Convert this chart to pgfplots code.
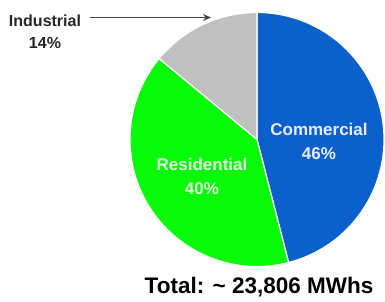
\documentclass[border=0pt]{standalone}
\usepackage{pgfplots}
\pgfplotsset{compat=1.18}
\usepackage{pgfplotstable}
\usepackage{fontspec}
\setmainfont{Liberation Sans}
\usetikzlibrary{arrows.meta}
\definecolor{comblue}{RGB}{12,96,204}
\definecolor{resgreen}{RGB}{8,250,8}
\definecolor{indgray}{RGB}{192,192,192}
\definecolor{arrowgray}{RGB}{70,70,70}
\pgfplotstableread{
label value
Commercial 46
Residential 40
Industrial 14
}\piedata
\begin{document}
\begin{tikzpicture}
\useasboundingbox (0,0) rectangle (385pt,302pt);
\begin{axis}[
  at={(0,0)}, anchor=south west,
  x=1pt, y=1pt,
  xmin=0, xmax=385, ymin=0, ymax=302,
  hide axis, clip=false,
]
% centre (257,162.5), radius 127; Commercial 46, Residential 40, Industrial 14
\fill[comblue, draw=white, line width=1.2pt]
  (axis cs:257,162.5) -- ([shift={(90:127pt)}]axis cs:257,162.5)
  arc[start angle=90, delta angle={-46*3.6}, radius=127pt] -- cycle;
\fill[resgreen, draw=white, line width=1.2pt]
  (axis cs:257,162.5) -- ([shift={({90-46*3.6}:127pt)}]axis cs:257,162.5)
  arc[start angle={90-46*3.6}, delta angle={-40*3.6}, radius=127pt] -- cycle;
\fill[indgray, draw=white, line width=1.2pt]
  (axis cs:257,162.5) -- ([shift={({90-86*3.6}:127pt)}]axis cs:257,162.5)
  arc[start angle={90-86*3.6}, delta angle={-14*3.6}, radius=127pt] -- cycle;
\node[text=white!92!blue, font=\bfseries\fontsize{17}{24}\selectfont, align=center]
  at (axis cs:319,161) {Commercial\\46\%};
\node[text=white!88!green, font=\bfseries\fontsize{17}{24}\selectfont, align=center]
  at (axis cs:202,126) {Residential\\40\%};
\node[text=black!85, font=\bfseries\fontsize{16}{22}\selectfont, align=center]
  at (axis cs:45,270) {Industrial\\14\%};
\draw[arrowgray, line width=1.8pt, -{Stealth[length=8pt,width=7pt]}]
  (axis cs:90,284.5) -- (axis cs:211,284.5);
\node[text=black, font=\bfseries\fontsize{22.5}{26}\selectfont]
  at (axis cs:259,15) {Total: \textasciitilde{} 23,806 MWhs};
\end{axis}
\end{tikzpicture}
\end{document}
